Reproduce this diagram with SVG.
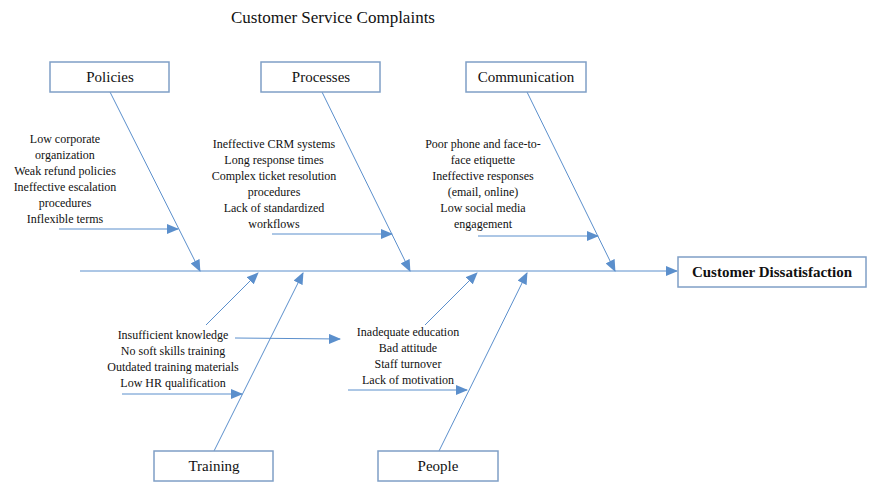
<svg xmlns="http://www.w3.org/2000/svg" width="882" height="490" viewBox="0 0 882 490">
<style>
text{font-family:"Liberation Serif",serif;fill:#111}
.box{fill:#fff;stroke:#7f9fc6;stroke-width:1.5}
.lbl{font-size:15px;text-anchor:middle}
.t{font-size:12px;text-anchor:middle}
.c line{stroke:#5b8fcc;stroke-width:1}
</style>
<defs>
<marker id="a" markerWidth="12" markerHeight="10" refX="11" refY="5" orient="auto" markerUnits="userSpaceOnUse">
<path d="M0,0L12,5L0,10z" fill="#5b8fcc"/>
</marker>
</defs>
<rect width="882" height="490" fill="#fff"/>
<text x="333" y="23" font-size="17" text-anchor="middle">Customer Service Complaints</text>
<g class="c">
<line x1="80" y1="271" x2="677" y2="271" marker-end="url(#a)"/>
<line x1="110" y1="92" x2="200" y2="271" marker-end="url(#a)"/>
<line x1="322" y1="92" x2="410" y2="271" marker-end="url(#a)"/>
<line x1="527" y1="92" x2="615" y2="271" marker-end="url(#a)"/>
<line x1="59" y1="229" x2="178" y2="229" marker-end="url(#a)"/>
<line x1="272" y1="234" x2="392" y2="234" marker-end="url(#a)"/>
<line x1="478" y1="236" x2="598" y2="236" marker-end="url(#a)"/>
<line x1="214" y1="451" x2="303" y2="273" marker-end="url(#a)"/>
<line x1="206" y1="325" x2="258" y2="273" marker-end="url(#a)"/>
<line x1="235" y1="338" x2="340" y2="339" marker-end="url(#a)"/>
<line x1="122" y1="394" x2="242" y2="394" marker-end="url(#a)"/>
<line x1="439" y1="451" x2="527" y2="273" marker-end="url(#a)"/>
<line x1="425" y1="325" x2="477" y2="273" marker-end="url(#a)"/>
<line x1="348" y1="390" x2="467" y2="390" marker-end="url(#a)"/>
</g>
<g id="policies"><rect class="box" x="50" y="62" width="119" height="30"/><text class="lbl" x="110" y="82">Policies</text></g>
<g id="processes"><rect class="box" x="261" y="62" width="119" height="30"/><text class="lbl" x="321" y="82">Processes</text></g>
<g id="communication"><rect class="box" x="466" y="62" width="120" height="30"/><text class="lbl" x="526" y="82">Communication</text></g>
<g id="effect"><rect class="box" x="678" y="257" width="188" height="30"/><text class="lbl" x="772" y="277" font-weight="bold">Customer Dissatisfaction</text></g>
<g id="training"><rect class="box" x="154" y="451" width="119" height="30"/><text class="lbl" x="214" y="471">Training</text></g>
<g id="people"><rect class="box" x="378" y="451" width="120" height="30"/><text class="lbl" x="438" y="471">People</text></g>
<g id="policies-causes" class="t">
<text class="t" x="65" y="143">Low corporate</text>
<text class="t" x="65" y="159">organization</text>
<text class="t" x="65" y="175">Weak refund policies</text>
<text class="t" x="65" y="191">Ineffective escalation</text>
<text class="t" x="65" y="207">procedures</text>
<text class="t" x="65" y="223">Inflexible terms</text>
</g>
<g id="processes-causes">
<text class="t" x="274" y="148">Ineffective CRM systems</text>
<text class="t" x="274" y="164">Long response times</text>
<text class="t" x="274" y="180">Complex ticket resolution</text>
<text class="t" x="274" y="196">procedures</text>
<text class="t" x="274" y="212">Lack of standardized</text>
<text class="t" x="274" y="228">workflows</text>
</g>
<g id="communication-causes">
<text class="t" x="483" y="148">Poor phone and face-to-</text>
<text class="t" x="483" y="164">face etiquette</text>
<text class="t" x="483" y="180">Ineffective responses</text>
<text class="t" x="483" y="196">(email, online)</text>
<text class="t" x="483" y="212">Low social media</text>
<text class="t" x="483" y="228">engagement</text>
</g>
<g id="training-causes">
<text class="t" x="173" y="339">Insufficient knowledge</text>
<text class="t" x="173" y="355">No soft skills training</text>
<text class="t" x="173" y="371">Outdated training materials</text>
<text class="t" x="173" y="387">Low HR qualification</text>
</g>
<g id="people-causes">
<text class="t" x="408" y="336">Inadequate education</text>
<text class="t" x="408" y="352">Bad attitude</text>
<text class="t" x="408" y="368">Staff turnover</text>
<text class="t" x="408" y="384">Lack of motivation</text>
</g>
</svg>
